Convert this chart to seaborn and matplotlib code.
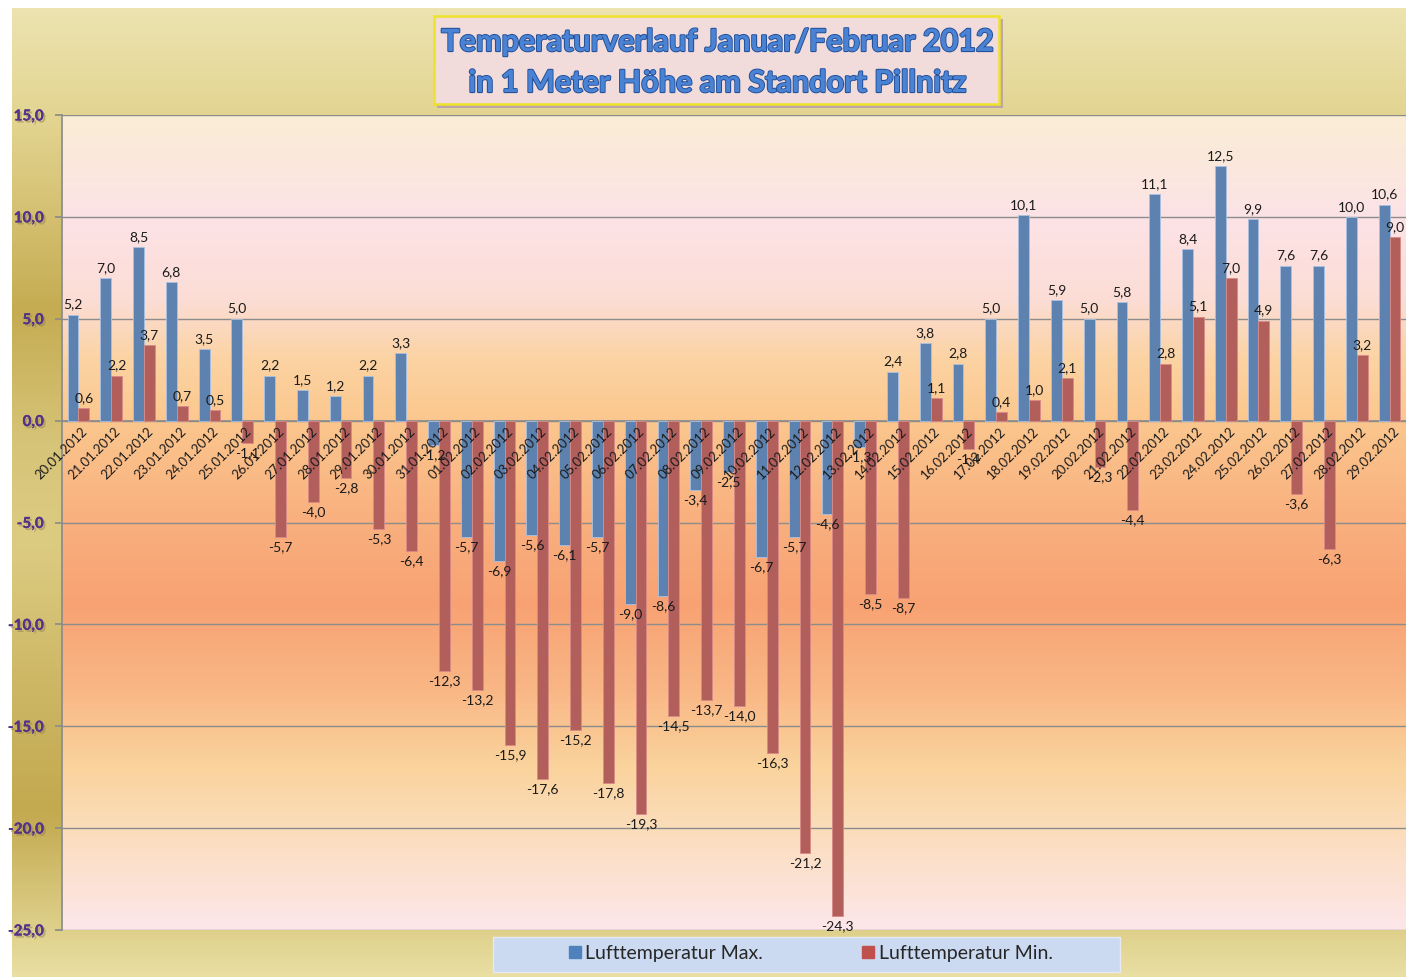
import numpy as np
import pandas as pd
import matplotlib
matplotlib.use("Agg")
import matplotlib.pyplot as plt
import seaborn as sns
import matplotlib.patheffects as pe
from matplotlib.colors import LinearSegmentedColormap
from matplotlib.patches import Rectangle
from matplotlib.lines import Line2D

# ---------------- data ----------------
dates = ["20.01.2012", "21.01.2012", "22.01.2012", "23.01.2012", "24.01.2012",
         "25.01.2012", "26.01.2012", "27.01.2012", "28.01.2012", "29.01.2012",
         "30.01.2012", "31.01.2012", "01.02.2012", "02.02.2012", "03.02.2012",
         "04.02.2012", "05.02.2012", "06.02.2012", "07.02.2012", "08.02.2012",
         "09.02.2012", "10.02.2012", "11.02.2012", "12.02.2012", "13.02.2012",
         "14.02.2012", "15.02.2012", "16.02.2012", "17.02.2012", "18.02.2012",
         "19.02.2012", "20.02.2012", "21.02.2012", "22.02.2012", "23.02.2012",
         "24.02.2012", "25.02.2012", "26.02.2012", "27.02.2012", "28.02.2012",
         "29.02.2012"]
t_max = [5.2, 7.0, 8.5, 6.8, 3.5, 5.0, 2.2, 1.5, 1.2, 2.2,
         3.3, -1.2, -5.7, -6.9, -5.6, -6.1, -5.7, -9.0, -8.6, -3.4,
         -2.5, -6.7, -5.7, -4.6, -1.3, 2.4, 3.8, 2.8, 5.0, 10.1,
         5.9, 5.0, 5.8, 11.1, 8.4, 12.5, 9.9, 7.6, 7.6, 10.0,
         10.6]
t_min = [0.6, 2.2, 3.7, 0.7, 0.5, -1.1, -5.7, -4.0, -2.8, -5.3,
         -6.4, -12.3, -13.2, -15.9, -17.6, -15.2, -17.8, -19.3, -14.5, -13.7,
         -14.0, -16.3, -21.2, -24.3, -8.5, -8.7, 1.1, -1.4, 0.4, 1.0,
         2.1, -2.3, -4.4, 2.8, 5.1, 7.0, 4.9, -3.6, -6.3, 3.2,
         9.0]
series_names = ["Lufttemperatur Max.", "Lufttemperatur Min."]
y_ticks = [15, 10, 5, 0, -5, -10, -15, -20, -25]
title_lines = ["Temperaturverlauf Januar/Februar 2012",
               "in 1 Meter Höhe am Standort Pillnitz"]

c_max = "#4F81BD"
c_min = "#C0504D"

df = pd.DataFrame({
    "Datum": dates * 2,
    "Wert": t_max + t_min,
    "Reihe": [series_names[0]] * len(dates) + [series_names[1]] * len(dates),
})

sns.set_theme(style="white")
plt.rcParams["font.family"] = ["Lato", "DejaVu Sans"]

W, H = 1406, 977
fig = plt.figure(figsize=(W / 100, H / 100), dpi=100)
fig.patch.set_facecolor("white")

def fx(px):
    return px / W

def fy(py):
    return 1 - py / H

# ---- figure background gradient (golden) ----
bg = fig.add_axes([fx(12), 0, 1 - fx(12), fy(8)], zorder=-20)
bg_cmap = LinearSegmentedColormap.from_list("bg", [
    (0.00, "#ECE3B0"), (0.12, "#E2D38E"), (0.31, "#C5AC52"), (0.45, "#D6C478"),
    (0.55, "#DCCC82"), (0.70, "#CDB765"), (0.83, "#C3A94F"), (1.00, "#E9DFA2")])
grad = np.linspace(0, 1, 256).reshape(-1, 1)
bg.imshow(grad, aspect="auto", cmap=bg_cmap, extent=(0, 1, 0, 1), origin="upper")
bg.set_axis_off()

# ---- main axes ----
ax = fig.add_axes([fx(62), fy(930), 1 - fx(62), fy(115) - fy(930)])
pa_cmap = LinearSegmentedColormap.from_list("pa", [
    (0.000, "#FAEDD5"), (0.125, "#FCE3E6"), (0.225, "#FCDDD6"),
    (0.30, "#FBD3A2"), (0.375, "#FBC78E"), (0.50, "#F9AF7E"),
    (0.60, "#F8A273"), (0.70, "#F9B584"), (0.80, "#FAD39C"),
    (0.875, "#FBDDBA"), (1.000, "#FDE6EA")])
ax.imshow(grad, aspect="auto", cmap=pa_cmap, extent=(-0.5, 40.5, -25, 15),
          origin="upper", zorder=-5)

for yv in y_ticks:
    ax.axhline(yv, color="#8C8C8C", linewidth=1.0, zorder=1)

sns.barplot(data=df, x="Datum", y="Wert", hue="Reihe", palette=[c_max, c_min],
            width=0.66, ax=ax, legend=False, zorder=3,
            edgecolor="#B7CBE6", linewidth=0.6)
for patch, col in zip(ax.patches, [c_max] * len(dates) + [c_min] * len(dates)):
    patch.set_edgecolor("#A9C1E4" if col == c_max else "#D98A88")

for cont in ax.containers:
    vals = cont.datavalues
    ax.bar_label(cont, labels=[f"{v:.1f}".replace(".", ",") for v in vals],
                 padding=3, fontsize=10, color="#1a1a1a", zorder=5)

ax.grid(False)
ax.set_xlim(-0.5, 40.5)
ax.set_ylim(-25, 15)
ax.set_yticks(y_ticks)
ax.set_yticklabels([f"{v:.1f}".replace(".", ",") for v in y_ticks],
                   fontsize=11, fontweight="black", color="#553388")
for t in ax.get_yticklabels():
    t.set_path_effects([pe.withSimplePatchShadow(offset=(1.5, -1.5),
                                                 shadow_rgbFace="#8a7a50", alpha=0.45),
                        pe.Normal()])

ax.spines["bottom"].set_position(("data", 0))
ax.spines["bottom"].set_color("#8C8C8C")
ax.spines["bottom"].set_zorder(1.5)
ax.spines["left"].set_color("#8C8C8C")
ax.spines["top"].set_visible(False)
ax.spines["right"].set_visible(False)

ax.set_xticks(range(len(dates)))
ax.set_xticklabels(dates, rotation=45, ha="right", rotation_mode="anchor",
                   fontsize=9.5, color="#1a1a1a")
ax.set_xticks(np.arange(-0.5, 41, 1), minor=True)
ax.tick_params(axis="x", which="major", length=0, pad=3)
ax.tick_params(axis="x", which="minor", length=4, color="#8C8C8C", direction="out")
ax.tick_params(axis="y", length=5, color="#8C8C8C", direction="out", pad=8, left=True)
ax.set_xlabel("")
ax.set_ylabel("")
ax.xaxis.set_zorder(6)
ax.yaxis.set_zorder(6)
# shift the date labels a bit right of the group centre
offset = matplotlib.transforms.ScaledTranslation(3 / 100, 0, fig.dpi_scale_trans)
for lbl in ax.get_xticklabels():
    lbl.set_transform(lbl.get_transform() + offset)

# ---- title box ----
fig.patches.append(Rectangle((fx(437), fy(108)), fx(1003) - fx(437), fy(19) - fy(108),
                             transform=fig.transFigure, facecolor="#B29AAE",
                             edgecolor="none", alpha=0.8, zorder=1))
fig.patches.append(Rectangle((fx(434), fy(104)), fx(999) - fx(434), fy(16) - fy(104),
                             transform=fig.transFigure, facecolor="#F2DCDB",
                             edgecolor="#EEE22A", linewidth=1.8, zorder=2))
for i, line in enumerate(title_lines):
    fig.text(fx(717), fy(42 + i * 41), line, ha="center", va="center",
             fontsize=22, fontweight="bold", color="#4A82D4", zorder=3,
             path_effects=[pe.withStroke(linewidth=1.6, foreground="#24519A"),
                           pe.Normal()])

# ---- legend ----
fig.patches.append(Rectangle((fx(493), fy(972)), fx(1120) - fx(493), fy(937) - fy(972),
                             transform=fig.transFigure, facecolor="#CBDAF1",
                             edgecolor="#E4E9F4", linewidth=1, zorder=1))
handles = [Line2D([], [], marker="s", linestyle="none", markersize=9,
                  markerfacecolor=c, markeredgecolor=c) for c in (c_max, c_min)]
fig.legend(handles, series_names, loc="center", ncol=2,
           bbox_to_anchor=(fx(810), fy(953)), frameon=False, fontsize=14,
           handletextpad=0.15, columnspacing=5.0, handlelength=0.8,
           borderaxespad=0)

fig.savefig("out.png", dpi=100)
